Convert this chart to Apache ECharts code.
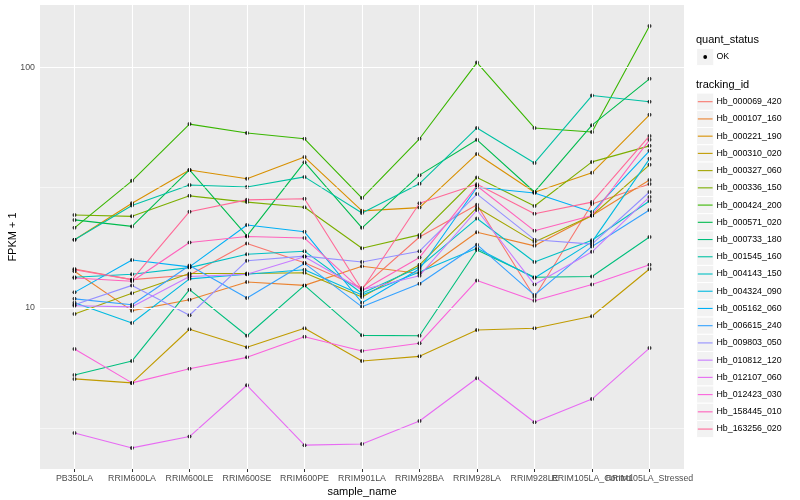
<!DOCTYPE html>
<html><head><meta charset="utf-8">
<script src="https://cdn.jsdelivr.net/npm/echarts@6/dist/echarts.min.js"></script>
<style>html,body{margin:0;padding:0;background:#fff}#c{width:800px;height:500px}</style>
</head><body><div id="c"></div><script>
// ---- data ----
const categories = ['PB350LA','RRIM600LA','RRIM600LE','RRIM600SE','RRIM600PE','RRIM901LA','RRIM928BA','RRIM928LA','RRIM928LE','RRIM105LA_Control','RRIM105LA_Stressed'];
const trackingIds = ['Hb_000069_420','Hb_000107_160','Hb_000221_190','Hb_000310_020','Hb_000327_060','Hb_000336_150','Hb_000424_200','Hb_000571_020','Hb_000733_180','Hb_001545_160','Hb_004143_150','Hb_004324_090','Hb_005162_060','Hb_006615_240','Hb_009803_050','Hb_010812_120','Hb_012107_060','Hb_012423_030','Hb_158445_010','Hb_163256_020'];
const quantStatus = ['OK'];
const yTickValues = [10, 100];

const Hb_000069_420 = [14.5, 13.1, 13.7, 18.5, 15.4, 12.1, 19.7, 26.8, 11.1, 27.0, 32.7];
const Hb_000107_160 = [14.2, 9.74, 10.8, 12.8, 12.4, 14.9, 13.9, 20.6, 18.1, 24.2, 34.0];
const Hb_000221_190 = [19.2, 27.2, 37.4, 34.4, 42.3, 25.3, 26.1, 43.6, 30.2, 36.4, 63.4];
const Hb_000310_020 = [5.07, 4.88, 8.15, 6.86, 8.23, 6.02, 6.29, 8.09, 8.23, 9.23, 14.5];
const Hb_000327_060 = [9.43, 11.5, 13.9, 13.9, 14.0, 11.1, 15.1, 26.1, 18.8, 24.2, 39.3];
const Hb_000336_150 = [24.3, 24.0, 29.2, 27.5, 26.2, 17.7, 20.1, 34.8, 26.5, 40.4, 47.1];
const Hb_000424_200 = [21.5, 33.7, 58.0, 53.3, 50.4, 28.6, 50.4, 104.5, 55.9, 53.8, 148.1];
const Hb_000571_020 = [23.2, 21.8, 37.4, 19.9, 40.3, 21.5, 35.6, 49.9, 30.3, 57.4, 89.4];
const Hb_000733_180 = [5.26, 6.02, 11.9, 7.66, 12.4, 7.69, 7.66, 17.4, 13.4, 13.5, 19.7];
const Hb_001545_160 = [19.2, 26.6, 32.4, 31.8, 35.0, 24.8, 32.8, 55.9, 40.0, 76.2, 71.8];
const Hb_004143_150 = [13.4, 13.8, 14.7, 16.7, 17.2, 11.5, 14.8, 23.5, 15.5, 19.1, 27.8];
const Hb_004324_090 = [10.5, 8.65, 13.2, 13.8, 14.4, 11.3, 14.1, 17.7, 13.3, 18.8, 41.6];
const Hb_005162_060 = [11.6, 15.8, 14.8, 22.1, 20.7, 10.5, 14.5, 31.7, 30.0, 25.0, 44.9];
const Hb_006615_240 = [10.9, 10.3, 15.0, 11.0, 15.3, 10.1, 12.6, 18.3, 11.3, 18.0, 25.5];
const Hb_009803_050 = [10.3, 12.4, 9.32, 15.7, 16.4, 15.5, 17.2, 29.7, 19.2, 18.4, 30.3];
const Hb_010812_120 = [10.2, 10.1, 13.5, 13.8, 16.3, 11.9, 13.6, 25.5, 12.5, 17.1, 28.9];
const Hb_012107_060 = [3.02, 2.62, 2.92, 4.77, 2.69, 2.72, 3.39, 5.10, 3.35, 4.18, 6.81];
const Hb_012423_030 = [6.75, 4.88, 5.59, 6.23, 7.59, 6.62, 7.13, 13.0, 10.7, 12.5, 15.1];
const Hb_158445_010 = [13.3, 12.9, 18.7, 19.8, 19.5, 11.8, 16.2, 32.1, 20.9, 24.2, 49.9];
const Hb_163256_020 = [14.4, 13.1, 25.1, 28.1, 28.4, 11.9, 27.2, 32.6, 24.6, 27.5, 51.8];

const seriesValues = [Hb_000069_420, Hb_000107_160, Hb_000221_190, Hb_000310_020, Hb_000327_060, Hb_000336_150, Hb_000424_200, Hb_000571_020, Hb_000733_180, Hb_001545_160, Hb_004143_150, Hb_004324_090, Hb_005162_060, Hb_006615_240, Hb_009803_050, Hb_010812_120, Hb_012107_060, Hb_012423_030, Hb_158445_010, Hb_163256_020];

// ---- styles ----
const lineColors = ['#F8766D','#EA8331','#D89000','#C09B00','#A3A500','#7CAE00','#39B600','#00BB4E','#00BF7D','#00C1A3','#00BFC4','#00BAE0','#00B0F6','#35A2FF','#9590FF','#C77CFF','#E76BF3','#FA62DB','#FF62BC','#FF6A98'];
const FONT = '"Liberation Sans", Arial, Helvetica, sans-serif';

// ggplot-like 5% expansion on the log scale, 0.6 on the discrete scale
const logs = seriesValues.flat().map(v => Math.log10(v));
const lo = Math.min(...logs), hi = Math.max(...logs), pad = (hi - lo) * 0.05;
const yMin = Math.pow(10, lo - pad), yMax = Math.pow(10, hi + pad);
const xIdx = categories.map((_, i) => i);
const xMin = -0.6, xMax = categories.length - 1 + 0.6;
// an empty trailing label slot so that the library's min/max overlap rule does not hide a real label
const xLabelSlots = xIdx.concat([categories.length - 1 + 0.55]);
const yMinor = [Math.pow(10, 0.5), Math.pow(10, 1.5)];

const series = [];
// grid lines (drawn under the data)
series.push({
  type: 'line', name: '__grid', data: [], z: 1, silent: true,
  markLine: {
    silent: true, symbol: ['none', 'none'], label: { show: false }, animation: false,
    emphasis: { disabled: true },
    data: [
      ...yMinor.map(v => ({ yAxis: v, lineStyle: { color: '#fff', width: 0.55, type: 'solid' } })),
      ...yTickValues.map(v => ({ yAxis: v, lineStyle: { color: '#fff', width: 1.1, type: 'solid' } })),
      ...xIdx.map(i => ({ xAxis: i, lineStyle: { color: '#fff', width: 1.1, type: 'solid' } }))
    ]
  }
});
trackingIds.forEach((id, k) => {
  series.push({
    type: 'line', name: id, z: 2,
    data: seriesValues[k].map((v, i) => [i, v]),
    symbol: 'none', showSymbol: false,
    lineStyle: { color: lineColors[k], width: 1.1 },
    itemStyle: { color: lineColors[k] },
    emphasis: { disabled: true }, silent: true
  });
});
series.push({
  type: 'scatter', name: quantStatus[0], z: 3,
  data: seriesValues.flatMap(vals => vals.map((v, i) => [i, v])),
  symbol: 'circle', symbolSize: 4,
  itemStyle: { color: '#000' },
  emphasis: { disabled: true }, silent: true
});

// legend drawn as ggplot-style keys
const graphics = [];
const lgX = 696, keyX = 696.6, keyW = 17.2, keyH = 17.23;
graphics.push({ type: 'text', x: lgX, y: 40, silent: true, style: { text: 'quant_status', fontSize: 11, fontFamily: FONT, fill: '#000', verticalAlign: 'middle' } });
graphics.push({ type: 'rect', silent: true, shape: { x: keyX, y: 57 - keyH / 2, width: keyW, height: keyH }, style: { fill: '#F2F2F2', stroke: '#fff', lineWidth: 1 } });
graphics.push({ type: 'circle', silent: true, shape: { cx: keyX + keyW / 2, cy: 57, r: 1.9 }, style: { fill: '#000' } });
graphics.push({ type: 'text', x: 716.5, y: 57, silent: true, style: { text: quantStatus[0], fontSize: 8.8, fontFamily: FONT, fill: '#000', verticalAlign: 'middle' } });
graphics.push({ type: 'text', x: lgX, y: 84.5, silent: true, style: { text: 'tracking_id', fontSize: 11, fontFamily: FONT, fill: '#000', verticalAlign: 'middle' } });
trackingIds.forEach((id, k) => {
  const cy = 101.7 + k * keyH;
  graphics.push({ type: 'rect', silent: true, shape: { x: keyX, y: cy - keyH / 2, width: keyW, height: keyH }, style: { fill: '#F2F2F2', stroke: '#fff', lineWidth: 1 } });
  graphics.push({ type: 'line', silent: true, shape: { x1: keyX + 1.2, y1: cy, x2: keyX + keyW - 1.2, y2: cy }, style: { stroke: lineColors[k], lineWidth: 1.1 } });
  graphics.push({ type: 'text', x: 716.5, y: cy, silent: true, style: { text: id, fontSize: 8.8, fontFamily: FONT, fill: '#000', verticalAlign: 'middle' } });
});

const chart = echarts.init(document.getElementById('c'), null, { renderer: 'canvas', width: 800, height: 500 });
chart.setOption({
  animation: false,
  backgroundColor: '#fff',
  textStyle: { fontFamily: FONT },
  grid: { left: 40, right: 116, top: 5, bottom: 31, show: true, backgroundColor: '#EBEBEB', borderWidth: 0, containLabel: false, outerBoundsMode: 'none' },
  xAxis: {
    type: 'value', min: xMin, max: xMax,
    axisLine: { show: false },
    splitLine: { show: false },
    axisTick: { show: true, customValues: xIdx, length: 3, lineStyle: { color: '#333', width: 1 } },
    axisLabel: { customValues: xLabelSlots, formatter: v => (Number.isInteger(v) ? categories[v] : ''), color: '#4D4D4D', fontSize: 8.8, fontFamily: FONT, margin: 5, hideOverlap: false, showMinLabel: true, showMaxLabel: false },
    name: 'sample_name', nameLocation: 'middle', nameGap: 17, nameMoveOverlap: false,
    nameTextStyle: { color: '#000', fontSize: 11, fontFamily: FONT }
  },
  yAxis: {
    type: 'log', logBase: 10, min: yMin, max: yMax,
    axisLine: { show: false },
    splitLine: { show: false },
    minorSplitLine: { show: false },
    axisTick: { show: true, customValues: yTickValues, length: 3, lineStyle: { color: '#333', width: 1 } },
    axisLabel: {
      customValues: yTickValues,
      formatter: v => { const l = Math.log10(v); return Math.abs(l - Math.round(l)) < 1e-6 ? String(Math.round(v)) : ''; },
      color: '#4D4D4D', fontSize: 8.8, fontFamily: FONT, margin: 5, showMinLabel: true, showMaxLabel: true
    },
    name: 'FPKM + 1', nameLocation: 'middle', nameGap: 22, nameRotate: 90, nameMoveOverlap: false,
    nameTextStyle: { color: '#000', fontSize: 11, fontFamily: FONT }
  },
  legend: { show: false },
  tooltip: { show: false },
  graphic: graphics,
  series: series
});
</script></body></html>
